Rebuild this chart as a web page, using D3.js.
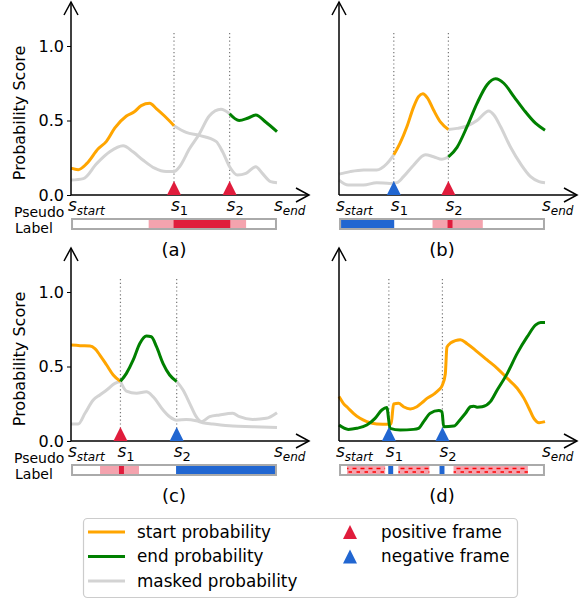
<!DOCTYPE html>
<html><head><meta charset="utf-8">
<script src="https://cdn.jsdelivr.net/npm/d3@7"></script>
<style>body{margin:0;background:#fff} text{font-family:"DejaVu Sans",sans-serif;fill:#000}</style>
</head><body><svg id="c" width="586" height="600"></svg>
<script>
// ---------- data (x = frame position 0..100, y = probability) ----------
const yTicks = [0, 0.5, 1.0];
const aS = [50, 77];
const bS = [26.6, 53.1];
const cS = [24, 51.3];
const dS = [24.2, 50.2];
const aMarks = ["pos", "pos"];
const bMarks = ["neg", "pos"];
const cMarks = ["pos", "neg"];
const dMarks = ["neg", "neg"];

const aStart = [[0,0.18],[3.5,0.17],[7.6,0.21],[13.2,0.31],[17.2,0.36],[21.3,0.45],[26.9,0.53],[30.9,0.56],[34.1,0.60],[38.2,0.615],[41.4,0.58],[45.4,0.53],[50,0.465],[55.9,0.42],[62.3,0.40],[70.4,0.36],[73.6,0.29],[77,0.19],[80.8,0.134],[84.9,0.145],[89.7,0.19],[92.9,0.145],[96.9,0.09],[100,0.083]];
const aEnd = [[0,0.10],[6,0.11],[12.4,0.21],[18.8,0.29],[25.3,0.33],[30.1,0.29],[34.9,0.235],[40.6,0.18],[46.2,0.157],[50,0.157],[52.7,0.19],[57.5,0.31],[62.3,0.41],[67.1,0.53],[72.8,0.575],[77,0.545],[81.6,0.50],[85.7,0.515],[89.7,0.537],[94.5,0.49],[100,0.425]];
const bStart = [[0,0.14],[5.4,0.157],[11.9,0.168],[18.3,0.168],[23.2,0.21],[26.6,0.27],[29.7,0.35],[33,0.46],[36.2,0.59],[38.6,0.66],[40.7,0.68],[43,0.65],[45.9,0.57],[49.2,0.49],[53.1,0.44],[57.3,0.447],[62.2,0.463],[67,0.50],[72.7,0.564],[75.2,0.537],[78.4,0.46],[83.3,0.32],[88.1,0.21],[93,0.123],[97.1,0.09],[100,0.083]];
const bEnd = [[0,0.10],[4.5,0.067],[11.9,0.067],[18.3,0.083],[24.8,0.078],[28.1,0.083],[31.3,0.123],[36.2,0.20],[41.9,0.27],[45.9,0.257],[50,0.24],[53.1,0.255],[57.3,0.32],[62.2,0.46],[67,0.615],[71.9,0.74],[76,0.78],[80,0.75],[84.9,0.66],[89.8,0.57],[95.5,0.48],[100,0.435]];
const cStart = [[0,0.644],[4.4,0.64],[9.2,0.638],[11.6,0.62],[14,0.577],[17.3,0.51],[20.5,0.443],[24,0.40],[26.9,0.335],[31.8,0.32],[36.6,0.33],[39.8,0.298],[44.7,0.208],[47.9,0.163],[51.3,0.14],[56,0.145],[60.8,0.136],[64,0.123],[68.9,0.114],[78.5,0.10],[88.2,0.096],[100,0.09]];
const cEnd = [[0,0.114],[3.5,0.114],[6.8,0.186],[10.8,0.275],[14,0.309],[17.3,0.342],[21.3,0.387],[24,0.40],[26.9,0.454],[30.2,0.544],[33.4,0.655],[36.6,0.705],[39,0.70],[41.5,0.633],[44.7,0.52],[47.9,0.443],[51.3,0.40],[54.4,0.342],[57.6,0.253],[60.8,0.163],[63.2,0.13],[67.3,0.163],[72.1,0.175],[78.5,0.186],[81.8,0.163],[88.2,0.145],[94.7,0.152],[100,0.19]];
const dStart = [[0,0.298],[2.1,0.253],[4.5,0.22],[7,0.186],[10.2,0.152],[13.5,0.13],[18.3,0.114],[24.2,0.112],[25.3,0.115],[26.5,0.248],[28.9,0.253],[31.3,0.23],[34.6,0.215],[37.8,0.23],[40.3,0.257],[42.7,0.286],[45.9,0.313],[48.4,0.342],[50.2,0.376],[51.6,0.45],[52.4,0.63],[54.1,0.657],[58.9,0.68],[62.2,0.653],[67,0.60],[71.9,0.544],[76.8,0.488],[81.7,0.42],[86.5,0.354],[89.8,0.286],[92.2,0.22],[94.6,0.152],[97.1,0.123],[100,0.13]];
const dEnd = [[0,0.107],[4.5,0.078],[8.6,0.085],[13.5,0.107],[17.5,0.152],[20.8,0.208],[23.2,0.224],[24.8,0.085],[29.7,0.074],[36.2,0.078],[38.6,0.085],[41.1,0.13],[44.3,0.186],[48.4,0.204],[50,0.197],[50.8,0.096],[55.7,0.10],[58.9,0.145],[61.4,0.186],[63.8,0.23],[65.4,0.234],[67,0.227],[69.5,0.23],[73.5,0.264],[76.8,0.342],[81.7,0.454],[86.5,0.588],[91.4,0.70],[95.5,0.779],[97.9,0.795],[100,0.795]];

// visible (coloured) ranges; elsewhere the curve is masked (grey)
const aStartVis = [0, 50],   aEndVis = [77, 100];
const bStartVis = [26.6, 53.1], bEndVis = [53.1, 100];
const cStartVis = [0, 24],   cEndVis = [24, 51.3];
const dStartVis = [0, 100],  dEndVis = [0, 100];

// pseudo labels: [from, to, kind]
const aPseudo = [[37.7,85,"soft"],[49.8,77.3,"pos"]];
const bPseudo = [[1,26.8,"neg"],[45.4,69.8,"soft"],[52.7,55.1,"pos"]];
const cPseudo = [[14.1,33,"soft"],[23.3,25.7,"pos"],[51,99.5,"neg"]];
const dPseudo = [[3.9,22.4,"hatch"],[23.9,26.3,"neg"],[28.8,43.9,"hatch"],[48.8,51.2,"neg"],[55.6,91.7,"hatch"]];

const panelNames = ["(a)", "(b)", "(c)", "(d)"];
const legendLines = ["start probability", "end probability", "masked probability"];
const legendMarks = ["positive frame", "negative frame"];

// ---------- styles ----------
const ORANGE = "#ffa500", GREEN = "#008000", GREY = "#d3d3d3";
const RED = "#e01c3c", BLUE = "#2166d1", PINK = "#f4a3ae";

const svg = d3.select("#c");
const defs = svg.append("defs");

function makeHatch(id, y) {
  const p = defs.append("pattern").attr("id", id).attr("patternUnits", "userSpaceOnUse")
    .attr("x", 0).attr("y", y).attr("width", 8).attr("height", 10);
  p.append("rect").attr("width", 8).attr("height", 10).attr("fill", PINK);
  p.append("path").attr("d", "M0.5,3.5H4.5M4.5,7H8.5").attr("stroke", "#ff0000").attr("stroke-width", 1.4).attr("fill", "none");
}

function tri(g, cx, baseY, color) {
  g.append("path")
    .attr("d", `M${cx - 7},${baseY} L${cx + 7},${baseY} L${cx},${baseY - 14} Z`)
    .attr("fill", color);
}

function drawPanel(o) {
  const g = svg.append("g");
  const x = d3.scaleLinear().domain([0, 100]).range([o.x0, o.x0 + 206]);
  const y = d3.scaleLinear().domain([0, 1]).range([o.y0, o.y0 - 149]);
  const line = d3.line().x(d => x(d[0])).y(d => y(d[1])).curve(d3.curveMonotoneX);

  const sub = (arr, lo, hi) => arr.filter(p => p[0] >= lo - 1e-9 && p[0] <= hi + 1e-9);

  // dotted guides
  o.s.forEach(v => {
    g.append("line").attr("x1", x(v)).attr("x2", x(v)).attr("y1", o.y0 - 162).attr("y2", o.y0)
      .attr("stroke", "#777").attr("stroke-width", 1.2).attr("stroke-dasharray", "1.2,2.6");
  });

  // grey masked parts
  [[o.start, o.startVis], [o.end, o.endVis]].forEach(([arr, vis]) => {
    const segs = [];
    if (vis[0] > 0) segs.push([0, vis[0]]);
    if (vis[1] < 100) segs.push([vis[1], 100]);
    segs.forEach(sg => g.append("path").attr("d", line(sub(arr, sg[0], sg[1])))
      .attr("fill", "none").attr("stroke", GREY).attr("stroke-width", 3));
  });
  // coloured parts
  g.append("path").attr("d", line(sub(o.start, o.startVis[0], o.startVis[1])))
    .attr("fill", "none").attr("stroke", ORANGE).attr("stroke-width", 3);
  g.append("path").attr("d", line(sub(o.end, o.endVis[0], o.endVis[1])))
    .attr("fill", "none").attr("stroke", GREEN).attr("stroke-width", 3);

  // axes with arrows
  const ax = g.append("g").attr("stroke", "#000").attr("stroke-width", 1.5).attr("fill", "none");
  const tipX = o.x0 + 238, tipY = o.y0 - 193;
  ax.append("line").attr("x1", o.x0).attr("x2", tipX).attr("y1", o.y0).attr("y2", o.y0);
  ax.append("path").attr("d", `M${tipX - 13},${o.y0 - 7} L${tipX},${o.y0} L${tipX - 13},${o.y0 + 7}`);
  ax.append("line").attr("x1", o.x0).attr("x2", o.x0).attr("y1", o.y0).attr("y2", tipY);
  ax.append("path").attr("d", `M${o.x0 - 7},${tipY + 13} L${o.x0},${tipY} L${o.x0 + 7},${tipY + 13}`);

  if (o.left) {
    const ya = g.append("g").attr("transform", `translate(${o.x0},0)`)
      .call(d3.axisLeft(y).tickValues(yTicks).tickFormat(d3.format(".1f")).tickSize(4).tickPadding(3).tickSizeOuter(0));
    ya.select(".domain").remove();
    ya.selectAll("text").style("font-size", "16px").style("font-family", "DejaVu Sans");
    ya.selectAll("line").attr("stroke", "#000");
    g.append("text").attr("transform", `translate(25,${o.y0 - 82}) rotate(-90)`)
      .attr("text-anchor", "middle").style("font-size", "16px").text("Probability Score");
    g.append("text").attr("x", 14).attr("y", o.y0 + 22).style("font-size", "14px").text("Pseudo");
    g.append("text").attr("x", 15).attr("y", o.y0 + 38).style("font-size", "14px").text("Label");
  }

  // triangles
  o.s.forEach((v, i) => tri(g, x(v), o.y0, o.marks[i] === "pos" ? RED : BLUE));

  // s labels
  const sl = [[0, "start"], [o.s[0], "1"], [o.s[1], "2"], [100, "end"]];
  sl.forEach(([v, t]) => {
    const tx = g.append("text").attr("x", x(v) - 3).attr("y", o.y0 + 15.5)
      .style("font-style", "italic").style("font-size", "17px");
    tx.append("tspan").text("s");
    tx.append("tspan").attr("dy", 4).style("font-size", t.length > 1 ? "12px" : "13px")
      .style("font-style", t.length > 1 ? "italic" : "normal").text(t);
  });

  // pseudo label bar
  const by = o.y0 + 24, bh = 10;
  o.pseudo.forEach(([a, b, k]) => {
    g.append("rect").attr("x", x(a)).attr("y", by).attr("width", x(b) - x(a)).attr("height", bh)
      .attr("fill", k === "pos" ? RED : k === "neg" ? BLUE : k === "soft" ? PINK : `url(#${o.hatchId})`);
  });
  g.append("rect").attr("x", x(0.5)).attr("y", by).attr("width", x(99.5) - x(0.5)).attr("height", bh)
    .attr("fill", "none").attr("stroke", "#aaa").attr("stroke-width", 2);

  g.append("text").attr("x", x(50)).attr("y", o.y0 + 61).attr("text-anchor", "middle")
    .style("font-size", "18px").text(o.name);
}

makeHatch("hatchD", 465);

drawPanel({x0: 71, y0: 195, left: true, start: aStart, end: aEnd, startVis: aStartVis, endVis: aEndVis, s: aS, marks: aMarks, pseudo: aPseudo, name: panelNames[0]});
drawPanel({x0: 339, y0: 195, left: false, start: bStart, end: bEnd, startVis: bStartVis, endVis: bEndVis, s: bS, marks: bMarks, pseudo: bPseudo, name: panelNames[1]});
drawPanel({x0: 71, y0: 441, left: true, start: cStart, end: cEnd, startVis: cStartVis, endVis: cEndVis, s: cS, marks: cMarks, pseudo: cPseudo, name: panelNames[2]});
drawPanel({x0: 339, y0: 441, left: false, start: dStart, end: dEnd, startVis: dStartVis, endVis: dEndVis, s: dS, marks: dMarks, pseudo: dPseudo, name: panelNames[3], hatchId: "hatchD"});

// legend
const lg = svg.append("g");
lg.append("rect").attr("x", 83.5).attr("y", 518.5).attr("width", 434).attr("height", 79).attr("rx", 4)
  .attr("fill", "#fff").attr("stroke", "#ccc").attr("stroke-width", 1.2);
const lcols = [ORANGE, GREEN, GREY];
legendLines.forEach((t, i) => {
  const yy = 532 + i * 24.5;
  lg.append("line").attr("x1", 88).attr("x2", 125).attr("y1", yy).attr("y2", yy).attr("stroke", lcols[i]).attr("stroke-width", 3);
  lg.append("text").attr("x", 137).attr("y", yy + 5.5).style("font-size", "16.8px").text(t);
});
const mcols = [RED, BLUE];
legendMarks.forEach((t, i) => {
  const yy = 532 + i * 24.5;
  tri(lg, 350, yy + 7, mcols[i]);
  lg.append("text").attr("x", 381).attr("y", yy + 5.5).style("font-size", "16.8px").text(t);
});
</script></body></html>
